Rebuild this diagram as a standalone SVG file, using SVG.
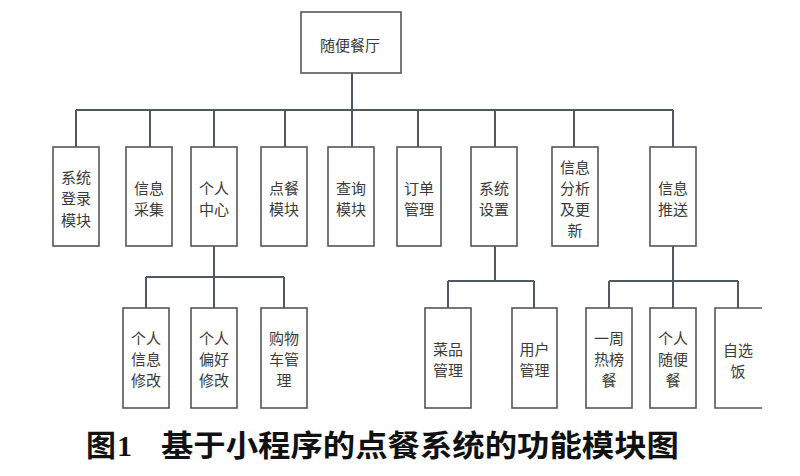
<svg xmlns="http://www.w3.org/2000/svg" width="800" height="476" viewBox="0 0 800 476">
<style>
.box{fill:#fff;stroke:#555;stroke-width:1.6}
.ln{fill:none;stroke:#4f5a60;stroke-width:2}
.t{font-family:"Noto Sans CJK SC","Microsoft YaHei",sans-serif;font-size:15px;fill:#3a3a3a;text-anchor:middle}
.cap{font-family:"Noto Sans CJK SC",sans-serif;font-size:30px;font-weight:bold;fill:#111}
</style>
<rect width="800" height="476" fill="#fff"/>
<g id="connectors" class="ln">
<path d="M352 73V110M76 110H673M76 110V147M150 110V147M214 110V147M285 110V147M352 110V147M418 110V147M495 110V147M574 110V147M673 110V147"/>
<path d="M214 246V277M146 277H284M146 277V308M214 277V308M284 277V308"/>
<path d="M495 246V281M448 281H534M448 281V308M534 281V308"/>
<path d="M673 246V281M609 281H738M609 281V308M673 281V308M738 281V308"/>
</g>
<g id="root"><rect class="box" x="301" y="12" width="100" height="61"/><text class="t" x="350" y="50.5">随便餐厅</text></g>
<g id="n1"><rect class="box" x="53" y="147" width="46" height="99"/><text class="t"><tspan x="76" y="182.5">系统</tspan><tspan x="76" y="204">登录</tspan><tspan x="76" y="225.5">模块</tspan></text></g>
<g id="n2"><rect class="box" x="126" y="147" width="46" height="99"/><text class="t"><tspan x="149" y="194">信息</tspan><tspan x="149" y="215">采集</tspan></text></g>
<g id="n3"><rect class="box" x="191" y="147" width="46" height="99"/><text class="t"><tspan x="214" y="194">个人</tspan><tspan x="214" y="215">中心</tspan></text></g>
<g id="n4"><rect class="box" x="261" y="147" width="46" height="99"/><text class="t"><tspan x="284" y="194">点餐</tspan><tspan x="284" y="215">模块</tspan></text></g>
<g id="n5"><rect class="box" x="328" y="147" width="46" height="99"/><text class="t"><tspan x="351" y="194">查询</tspan><tspan x="351" y="215">模块</tspan></text></g>
<g id="n6"><rect class="box" x="397" y="147" width="44" height="99"/><text class="t"><tspan x="419" y="194">订单</tspan><tspan x="419" y="215">管理</tspan></text></g>
<g id="n7"><rect class="box" x="471" y="147" width="46" height="99"/><text class="t"><tspan x="494" y="194">系统</tspan><tspan x="494" y="215">设置</tspan></text></g>
<g id="n8"><rect class="box" x="552" y="147" width="46" height="99"/><text class="t"><tspan x="575" y="173">信息</tspan><tspan x="575" y="194">分析</tspan><tspan x="575" y="215">及更</tspan><tspan x="575" y="236">新</tspan></text></g>
<g id="n9"><rect class="box" x="650" y="147" width="46" height="99"/><text class="t"><tspan x="673" y="194">信息</tspan><tspan x="673" y="215">推送</tspan></text></g>
<g id="n3a"><rect class="box" x="123" y="308" width="46" height="100"/><text class="t"><tspan x="146" y="343.5">个人</tspan><tspan x="146" y="364.5">信息</tspan><tspan x="146" y="385.5">修改</tspan></text></g>
<g id="n3b"><rect class="box" x="191" y="308" width="46" height="100"/><text class="t"><tspan x="214" y="343.5">个人</tspan><tspan x="214" y="364.5">偏好</tspan><tspan x="214" y="385.5">修改</tspan></text></g>
<g id="n3c"><rect class="box" x="261" y="308" width="46" height="100"/><text class="t"><tspan x="284" y="343.5">购物</tspan><tspan x="284" y="364.5">车管</tspan><tspan x="284" y="385.5">理</tspan></text></g>
<g id="n7a"><rect class="box" x="425" y="308" width="46" height="100"/><text class="t"><tspan x="448" y="355">菜品</tspan><tspan x="448" y="376">管理</tspan></text></g>
<g id="n7b"><rect class="box" x="512" y="308" width="45" height="100"/><text class="t"><tspan x="534.5" y="355">用户</tspan><tspan x="534.5" y="376">管理</tspan></text></g>
<g id="n9a"><rect class="box" x="586" y="308" width="46" height="100"/><text class="t"><tspan x="609" y="343.5">一周</tspan><tspan x="609" y="364.5">热榜</tspan><tspan x="609" y="385.5">餐</tspan></text></g>
<g id="n9b"><rect class="box" x="650" y="308" width="46" height="100"/><text class="t"><tspan x="673" y="343.5">个人</tspan><tspan x="673" y="364.5">随便</tspan><tspan x="673" y="385.5">餐</tspan></text></g>
<g id="n9c"><path class="box" d="M762 308H715V408H762"/><text class="t"><tspan x="738" y="355.5">自选</tspan><tspan x="738" y="376.5">饭</tspan></text></g>
<g id="caption">
<text class="cap" y="456"><tspan x="86">图</tspan><tspan x="117" font-family="Liberation Serif,serif">1</tspan></text>
<text class="cap" x="161" y="456" textLength="518" lengthAdjust="spacingAndGlyphs">基于小程序的点餐系统的功能模块图</text>
</g>
</svg>
